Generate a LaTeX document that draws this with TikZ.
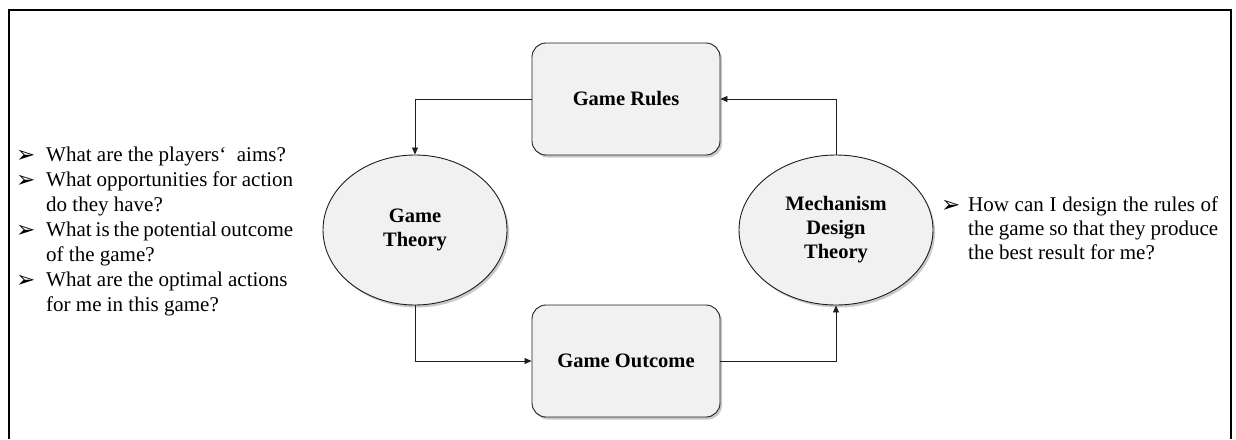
\documentclass[tikz,border=0pt]{standalone}
\usepackage{fontspec}
\setmainfont{Liberation Serif}
\newfontfamily\symfont{DejaVu Sans}
\usetikzlibrary{shapes.geometric,arrows.meta,shadows}
\definecolor{boxfill}{HTML}{F1F1F1}
\definecolor{inkline}{HTML}{1E1E1E}
\begin{document}
\begin{tikzpicture}[x=1pt,y=-1pt,
  soft shadow/.style={drop shadow={shadow xshift=2pt,shadow yshift=-2.5pt,opacity=0.3,fill=black!70}},
  stagebox/.style={draw=inkline,line width=0.9pt,fill=boxfill,rounded corners=14pt,
    minimum width=188pt,minimum height=112pt,
    font=\fontsize{20.5}{24}\selectfont\bfseries,soft shadow},
  theorynode/.style={ellipse,draw=inkline,line width=0.9pt,fill=boxfill,inner sep=0pt,
    minimum height=150pt,align=center,
    font=\fontsize{20.5}{24}\selectfont\bfseries,soft shadow},
  conn/.style={draw=inkline,line width=0.8pt,-{Triangle[length=7pt,width=6pt]}},
  question/.style={anchor=base west,inner sep=0pt,font=\fontsize{21}{25}\selectfont},
  bulletmark/.style={anchor=base west,inner sep=0pt,font=\symfont\fontsize{23}{23}\selectfont}]

\useasboundingbox (0,0) rectangle (1236,439);

% outer frame, open at the bottom
\draw[line width=2pt] (9,439) -- (9,10) -- (1231,10) -- (1231,439);

% the four stages of the cycle
\node[stagebox] (rules) at (626,99) {Game Rules};
\node[stagebox] (outcome) at (626,361) {Game Outcome};
\node[theorynode,minimum width=184pt] (gt) at (415,230) {Game\\Theory};
\node[theorynode,minimum width=194pt] (mdt) at (836,230) {Mechanism\\Design\\Theory};

% cycle connectors
\draw[conn] (rules.west) -| (gt.north);
\draw[conn] (gt.south) |- (outcome.west);
\draw[conn] (outcome.east) -| (mdt.south);
\draw[conn] (mdt.north) |- (rules.east);

% questions of game theory
\node[bulletmark] (b1) at (16,162) {➢};
\node[question] (q1) at (46,161) {What are the players‘~ aims?};
\node[bulletmark] (b2) at (16,187) {➢};
\node[question] (q2) at (46,186) {\makebox[247pt][s]{What opportunities for action}};
\node[question] (q3) at (46,211) {do they have?};
\node[bulletmark] (b3) at (16,237) {➢};
\node[question] (q4) at (46,236) {\makebox[247pt][s]{What is the potential outcome}};
\node[question] (q5) at (46,261) {of the game?};
\node[bulletmark] (b4) at (16,287) {➢};
\node[question] (q6) at (46,286) {What are the optimal actions};
\node[question] (q7) at (46,311) {for me in this game?};

% question of mechanism design theory
\node[bulletmark] (b5) at (941,212) {➢};
\node[question] (m1) at (968,211) {\makebox[250pt][s]{How can I design the rules of}};
\node[question] (m2) at (968,235) {\makebox[250pt][s]{the game so that they produce}};
\node[question] (m3) at (968,259) {the best result for me?};
\end{tikzpicture}
\end{document}
